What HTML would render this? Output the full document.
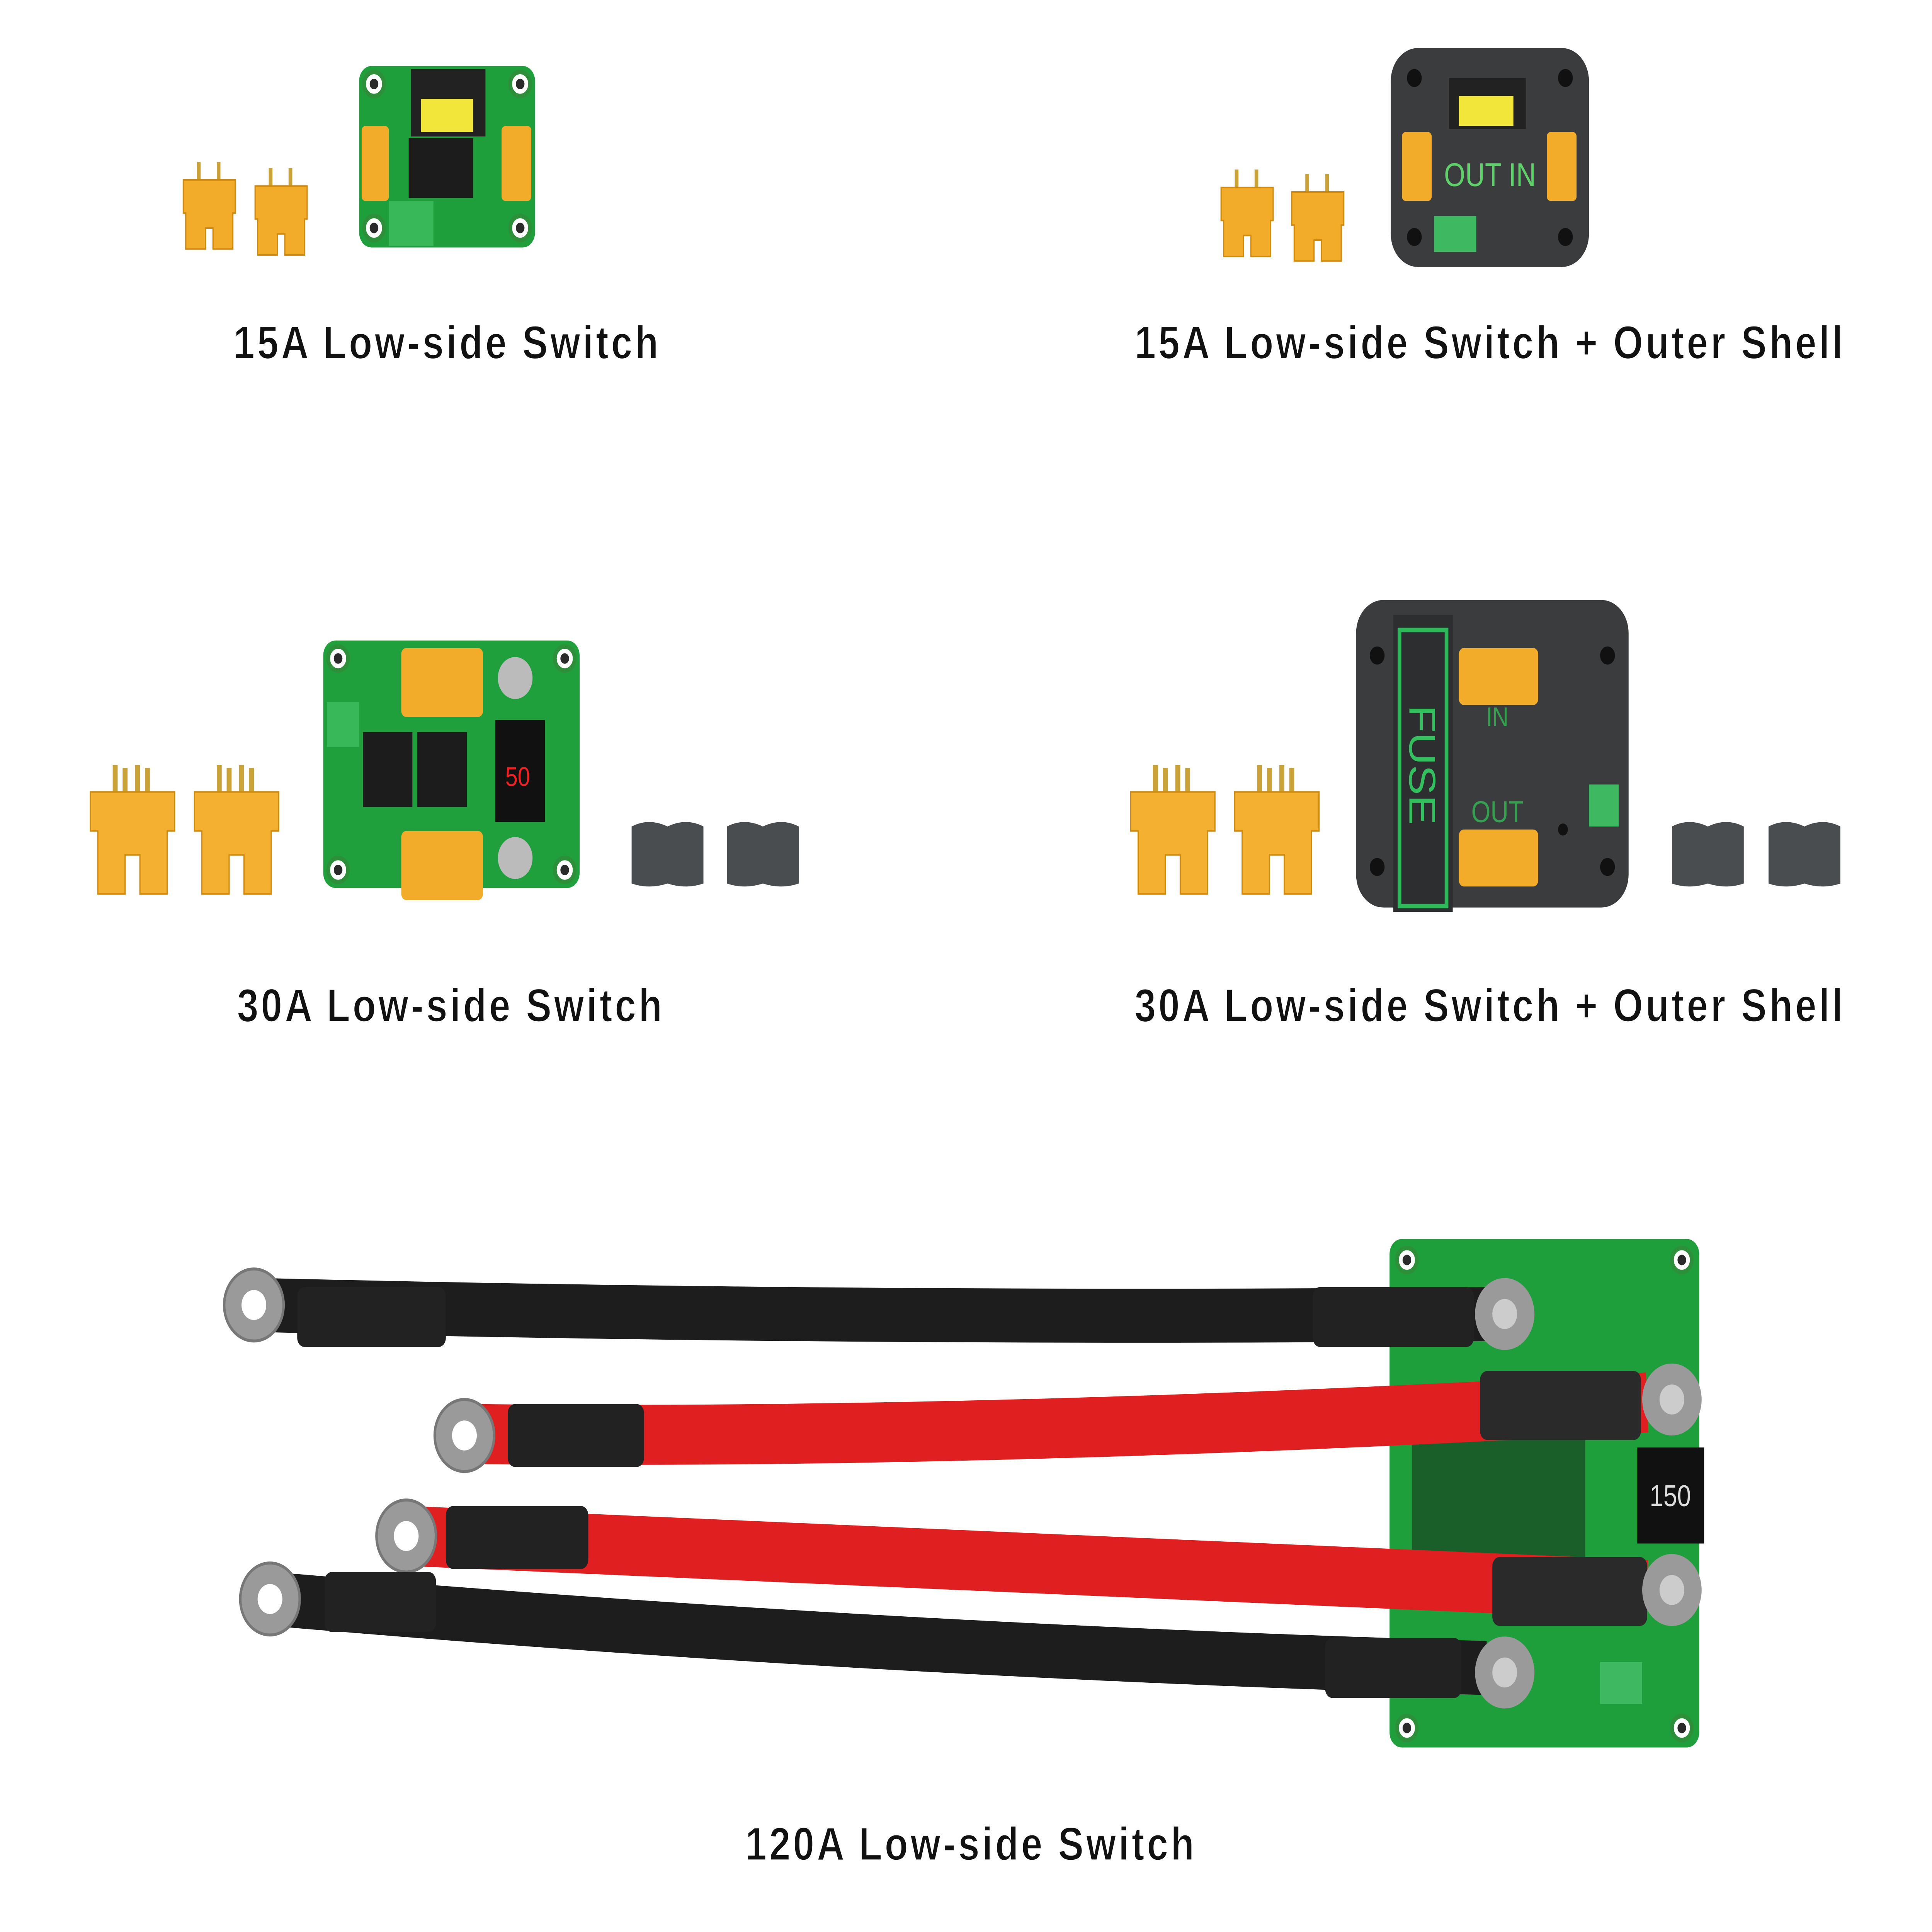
<!DOCTYPE html>
<html><head><meta charset="utf-8"><style>
html,body{margin:0;padding:0;background:#fff;overflow:hidden;width:100%;height:100%;}
svg{display:block;width:100vw;height:100vh;}
text{font-family:"Liberation Sans","DejaVu Sans",sans-serif;}
</style></head><body>
<svg viewBox="0 0 1560 1288" preserveAspectRatio="none" xmlns="http://www.w3.org/2000/svg">
<defs>
<g id="xt">
  <rect x="11" y="0" width="3" height="14" fill="#c9a23a"/>
  <rect x="27" y="0" width="3" height="14" fill="#c9a23a"/>
  <path d="M0 12 H42 V34 H40 V58 H24 V44 H18 V58 H2 V34 H0Z" fill="#f2ac2a" stroke="#d08a10" stroke-width="1"/>
</g>
<g id="xtL">
  <rect x="18" y="0" width="4" height="20" fill="#c9a23a"/><rect x="26" y="2" width="4" height="18" fill="#c9a23a"/>
  <rect x="36" y="0" width="4" height="20" fill="#c9a23a"/><rect x="44" y="2" width="4" height="18" fill="#c9a23a"/>
  <path d="M0 18 H68 V44 H62 V86 H40 V60 H28 V86 H6 V44 H0Z" fill="#f4b030" stroke="#d08a10" stroke-width="1"/>
</g>
<g id="cap">
  <path d="M0 6 Q14 0 29 6 Q44 0 58 6 V44 Q44 48 29 44 Q14 48 0 44Z" fill="#4a4d4f"/>
</g>
<g id="hole"><circle r="8" fill="#fff" stroke="#2d8f3a" stroke-width="3"/><circle r="3.5" fill="#2a2a2a"/></g>
<g id="lug"><circle r="24" fill="#9a9a9a" stroke="#777" stroke-width="2"/><circle r="10" fill="#fff"/></g>
</defs>
<rect width="1560" height="1288" fill="#fff"/>

<use href="#xt" x="148" y="108"/><use href="#xt" x="206" y="112"/>
<rect x="290" y="44" width="142" height="121" rx="10" fill="#1f9e3c"/>
<use href="#hole" x="302" y="56"/><use href="#hole" x="420" y="56"/><use href="#hole" x="302" y="152"/><use href="#hole" x="420" y="152"/>
<rect x="332" y="46" width="60" height="45" fill="#222"/>
<rect x="340" y="66" width="42" height="22" fill="#f3e63a"/>
<rect x="330" y="92" width="52" height="40" fill="#1c1c1c"/>
<rect x="292" y="84" width="22" height="50" rx="3" fill="#f2ac2a"/><rect x="405" y="84" width="24" height="50" rx="3" fill="#f2ac2a"/>
<rect x="314" y="134" width="36" height="30" fill="#39b85a"/>

<use href="#xt" x="986" y="113"/><use href="#xt" x="1043" y="116"/>
<rect x="1123" y="32" width="160" height="146" rx="22" fill="#3a3c3e"/>
<circle cx="1142" cy="52" r="6" fill="#111"/><circle cx="1264" cy="52" r="6" fill="#111"/><circle cx="1142" cy="158" r="6" fill="#111"/><circle cx="1264" cy="158" r="6" fill="#111"/>
<rect x="1170" y="52" width="62" height="34" fill="#222"/><rect x="1178" y="64" width="44" height="20" fill="#f3e63a"/>
<rect x="1132" y="88" width="24" height="46" rx="3" fill="#f2ac2a"/><rect x="1249" y="88" width="24" height="46" rx="3" fill="#f2ac2a"/>
<text x="1166" y="124" font-size="22" fill="#5fd06a" font-family="Liberation Mono">OUT IN</text>
<rect x="1158" y="144" width="34" height="24" fill="#3fb862"/>

<use href="#xtL" x="73" y="510"/><use href="#xtL" x="157" y="510"/>
<rect x="261" y="427" width="207" height="165" rx="10" fill="#1fa03c"/>
<use href="#hole" x="273" y="439"/><use href="#hole" x="456" y="439"/><use href="#hole" x="273" y="580"/><use href="#hole" x="456" y="580"/>
<rect x="324" y="432" width="66" height="46" rx="4" fill="#f2ac2a"/><rect x="324" y="554" width="66" height="46" rx="4" fill="#f2ac2a"/>
<rect x="293" y="488" width="40" height="50" fill="#1c1c1c"/><rect x="337" y="488" width="40" height="50" fill="#1c1c1c"/>
<rect x="400" y="480" width="40" height="68" fill="#111"/><text x="408" y="524" font-size="18" fill="#e22" font-family="Liberation Mono">50</text>
<circle cx="416" cy="452" r="14" fill="#bbb"/><circle cx="416" cy="572" r="14" fill="#bbb"/>
<rect x="264" y="468" width="26" height="30" fill="#39b85a"/>
<use href="#cap" x="510" y="545"/><use href="#cap" x="587" y="545"/>

<use href="#xtL" x="913" y="510"/><use href="#xtL" x="997" y="510"/>
<rect x="1095" y="400" width="220" height="205" rx="22" fill="#3a3c3e"/>
<circle cx="1112" cy="437" r="6" fill="#111"/><circle cx="1298" cy="437" r="6" fill="#111"/><circle cx="1112" cy="578" r="6" fill="#111"/><circle cx="1298" cy="578" r="6" fill="#111"/>
<rect x="1125" y="410" width="48" height="198" fill="#2c2e30"/>
<rect x="1130" y="420" width="38" height="184" fill="none" stroke="#2fb85a" stroke-width="3"/>
<text x="0" y="0" font-size="30" fill="#35c060" transform="translate(1138,470) rotate(90)">FUSE</text>
<rect x="1178" y="432" width="64" height="38" rx="4" fill="#f2ac2a"/><rect x="1178" y="553" width="64" height="38" rx="4" fill="#f2ac2a"/>
<text x="1200" y="484" font-size="18" fill="#35a050">IN</text><text x="1188" y="548" font-size="20" fill="#35a050">OUT</text>
<rect x="1283" y="523" width="24" height="28" fill="#3fb862"/>
<circle cx="1262" cy="553" r="4" fill="#111"/>
<use href="#cap" x="1350" y="545"/><use href="#cap" x="1428" y="545"/>

<rect x="1122" y="826" width="250" height="339" rx="10" fill="#1f9e3c"/>
<use href="#hole" x="1136" y="840"/><use href="#hole" x="1358" y="840"/><use href="#hole" x="1136" y="1152"/><use href="#hole" x="1358" y="1152"/>
<rect x="1140" y="955" width="140" height="95" fill="#1a5f2a"/>
<rect x="1322" y="965" width="54" height="64" fill="#111"/><text x="1332" y="1004" font-size="20" fill="#ddd" font-family="Liberation Mono">150</text>
<rect x="1292" y="1108" width="34" height="28" fill="#3fb862"/>
<path d="M210 870 Q700 880 1210 876" stroke="#1d1d1d" stroke-width="36" fill="none"/>
<use href="#lug" x="205" y="870"/><rect x="240" y="858" width="120" height="40" rx="6" fill="#222"/><rect x="1060" y="858" width="130" height="40" rx="6" fill="#222"/>
<circle cx="1215" cy="876" r="24" fill="#9a9a9a"/><circle cx="1215" cy="876" r="10" fill="#ccc"/>
<path d="M380 956 Q800 960 1330 935" stroke="#e02020" stroke-width="40" fill="none"/>
<use href="#lug" x="375" y="957"/><rect x="410" y="936" width="110" height="42" rx="6" fill="#222"/><rect x="1195" y="914" width="130" height="46" rx="6" fill="#2a2a2a"/>
<circle cx="1350" cy="933" r="24" fill="#9a9a9a"/><circle cx="1350" cy="933" r="10" fill="#ccc"/>
<path d="M330 1024 Q800 1040 1330 1060" stroke="#e02020" stroke-width="40" fill="none"/>
<use href="#lug" x="328" y="1024"/><rect x="360" y="1004" width="115" height="42" rx="6" fill="#222"/><rect x="1205" y="1038" width="125" height="46" rx="6" fill="#2a2a2a"/>
<circle cx="1350" cy="1060" r="24" fill="#9a9a9a"/><circle cx="1350" cy="1060" r="10" fill="#ccc"/>
<path d="M220 1066 Q700 1100 1200 1112" stroke="#1d1d1d" stroke-width="36" fill="none"/>
<use href="#lug" x="218" y="1066"/><rect x="262" y="1048" width="90" height="40" rx="6" fill="#222"/><rect x="1070" y="1092" width="110" height="40" rx="6" fill="#222"/>
<circle cx="1215" cy="1115" r="24" fill="#9a9a9a"/><circle cx="1215" cy="1115" r="10" fill="#ccc"/>

<g font-size="31" fill="#111" letter-spacing="2" text-anchor="middle" font-weight="bold" stroke="#fff" stroke-width="0.6">
<text x="361" y="239">15A Low-side Switch</text>
<text x="1203" y="239">15A Low-side Switch + Outer Shell</text>
<text x="364" y="681">30A Low-side Switch</text>
<text x="1203" y="681">30A Low-side Switch + Outer Shell</text>
<text x="784" y="1240">120A Low-side Switch</text>
</g>
</svg>
</body></html>
